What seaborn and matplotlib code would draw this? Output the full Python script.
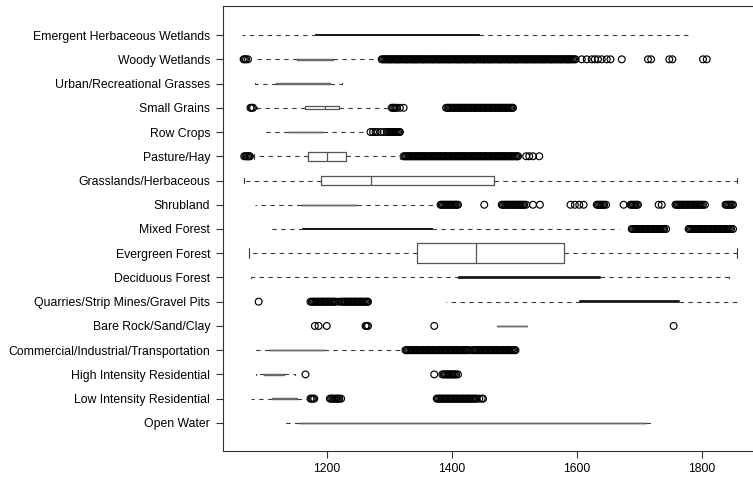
import matplotlib
matplotlib.use("Agg")
import matplotlib.pyplot as plt
import pandas as pd
import seaborn as sns

# ---------------- data ----------------
categories = [
    "Emergent Herbaceous Wetlands", "Woody Wetlands", "Urban/Recreational Grasses",
    "Small Grains", "Row Crops", "Pasture/Hay", "Grasslands/Herbaceous", "Shrubland",
    "Mixed Forest", "Evergreen Forest", "Deciduous Forest",
    "Quarries/Strip Mines/Gravel Pits", "Bare Rock/Sand/Clay",
    "Commercial/Industrial/Transportation", "High Intensity Residential",
    "Low Intensity Residential", "Open Water",
]
whisker_low = [1064, 1082, 1085, 1088, 1099, 1084, 1067, 1085, 1108, 1076, 1078, 1391, 1473, 1083, 1087, 1078, 1131]
quartile_1 = [1183, 1152, 1119, 1165, 1138, 1170, 1190, 1158, 1162, 1345, 1411, 1605, 1473, 1108, 1099, 1112, 1155]
median = [1300, 1181, 1160, 1197, 1165, 1200, 1270, 1200, 1260, 1438, 1520, 1690, 1495, 1150, 1115, 1130, 1430]
quartile_3 = [1443, 1210, 1205, 1219, 1194, 1230, 1468, 1248, 1368, 1579, 1637, 1763, 1520, 1195, 1131, 1152, 1711]
whisker_high = [1781, 1280, 1224, 1298, 1264, 1317, 1857, 1376, 1667, 1857, 1843, 1857, 1520, 1320, 1149, 1168, 1719]
box_size = [0.03, 0.02, 0.02, 0.12, 0.02, 0.37, 0.41, 0.02, 0.03, 0.82, 0.03, 0.03, 0.02, 0.02, 0.02, 0.02, 0.02]

fliers_woody = [1067, 1069, 1071, 1074,
                1288, 1290, 1292, 1294, 1296, 1298, 1300, 1302, 1303, 1305, 1307, 1309, 1311, 1313,
                1314, 1316, 1318, 1320, 1322, 1324, 1326, 1328, 1329, 1331, 1333, 1335, 1337, 1339,
                1340, 1342, 1344, 1346, 1348, 1350, 1352, 1354, 1355, 1357, 1359, 1361, 1363, 1365,
                1367, 1369, 1370, 1372, 1374, 1376, 1378, 1380, 1381, 1383, 1385, 1387, 1389, 1391,
                1393, 1395, 1396, 1398, 1400, 1402, 1404, 1406, 1408, 1410, 1411, 1413, 1415, 1417,
                1419, 1421, 1422, 1424, 1426, 1428, 1430, 1432, 1434, 1436, 1437, 1439, 1441, 1443,
                1445, 1447, 1449, 1451, 1452, 1454, 1456, 1458, 1460, 1462, 1463, 1465, 1467, 1469,
                1471, 1473, 1475, 1477, 1478, 1480, 1482, 1484, 1486, 1488, 1490, 1492, 1493, 1495,
                1497, 1499, 1501, 1503, 1504, 1506, 1508, 1510, 1512, 1514, 1516, 1518, 1519, 1521,
                1523, 1525, 1527, 1529, 1531, 1533, 1534, 1536, 1538, 1540, 1542, 1544, 1545, 1547,
                1549, 1551, 1553, 1555, 1557, 1559, 1560, 1562, 1564, 1566, 1568, 1570, 1572, 1574,
                1575, 1577, 1579, 1581, 1583, 1585, 1586, 1588, 1590, 1592, 1594, 1596, 1598,
                1608, 1616, 1624, 1629, 1634, 1640, 1648, 1654, 1672, 1714, 1719, 1748, 1753,
                1802, 1808]
fliers_small_grains = [1078, 1080, 1082, 1304, 1306, 1308, 1310, 1312, 1317, 1323,
                       1391, 1393, 1395, 1397, 1399, 1401, 1403, 1405, 1407, 1409, 1411, 1413, 1415,
                       1417, 1419, 1421, 1423, 1425, 1427, 1429, 1431, 1433, 1435, 1437, 1439, 1441,
                       1443, 1445, 1447, 1449, 1451, 1453, 1455, 1457, 1459, 1461, 1463, 1465, 1467,
                       1469, 1471, 1473, 1475, 1477, 1479, 1481, 1483, 1485, 1487, 1489, 1491, 1493,
                       1495, 1497, 1498]
fliers_row_crops = [1270, 1274, 1278, 1281, 1286, 1291, 1296, 1298, 1300, 1302, 1304, 1306, 1308,
                    1310, 1312, 1314, 1316, 1317]
fliers_pasture = [1068, 1070, 1072, 1074, 1076, 1077,
                  1323, 1325, 1327, 1329, 1331, 1333, 1335, 1337, 1339, 1341, 1343, 1345, 1347, 1349,
                  1351, 1353, 1355, 1357, 1359, 1361, 1363, 1365, 1367, 1369, 1371, 1373, 1375, 1377,
                  1379, 1381, 1383, 1385, 1387, 1389, 1391, 1393, 1395, 1397, 1399, 1401, 1403, 1405,
                  1407, 1409, 1411, 1413, 1415, 1417, 1419, 1421, 1423, 1425, 1427, 1429, 1431, 1433,
                  1435, 1437, 1439, 1441, 1443, 1445, 1447, 1449, 1451, 1453, 1455, 1457, 1459, 1461,
                  1463, 1465, 1467, 1469, 1471, 1473, 1475, 1477, 1479, 1481, 1483, 1485, 1487, 1489,
                  1491, 1493, 1495, 1497, 1499, 1501, 1503, 1505, 1506, 1519, 1524, 1530, 1540]
fliers_shrubland = [1382, 1384, 1386, 1388, 1390, 1392, 1394, 1396, 1398, 1400, 1402, 1404, 1406,
                    1408, 1410, 1452, 1480, 1482, 1484, 1486, 1488, 1490, 1492, 1494, 1496, 1498,
                    1500, 1502, 1504, 1506, 1508, 1510, 1512, 1514, 1516, 1519, 1530, 1541, 1590,
                    1597, 1604, 1611, 1632, 1634, 1636, 1638, 1640, 1642, 1644, 1647, 1675, 1686,
                    1688, 1690, 1692, 1694, 1696, 1698, 1731, 1736, 1758, 1760, 1762, 1764, 1766,
                    1768, 1770, 1772, 1774, 1776, 1778, 1780, 1782, 1784, 1786, 1788, 1790, 1792,
                    1794, 1796, 1798, 1800, 1802, 1805, 1838, 1840, 1842, 1844, 1846, 1848, 1850]
fliers_mixed = [1688, 1690, 1692, 1694, 1696, 1698, 1700, 1702, 1704, 1706, 1708, 1710, 1712, 1714,
                1716, 1718, 1720, 1722, 1724, 1726, 1728, 1730, 1732, 1734, 1736, 1738, 1740, 1743,
                1779, 1781, 1783, 1785, 1787, 1789, 1791, 1793, 1795, 1797, 1799, 1801, 1803, 1805,
                1807, 1809, 1811, 1813, 1815, 1817, 1819, 1821, 1823, 1825, 1827, 1829, 1831, 1833,
                1835, 1837, 1839, 1841, 1843, 1845, 1847, 1850]
fliers_quarries = [1091, 1174, 1176, 1178, 1180, 1182, 1184, 1186, 1188, 1190, 1192, 1194, 1196,
                   1198, 1200, 1202, 1204, 1206, 1208, 1210, 1212, 1214, 1219, 1223, 1225, 1227,
                   1229, 1231, 1233, 1235, 1237, 1239, 1241, 1243, 1245, 1247, 1249, 1251, 1253,
                   1255, 1257, 1259, 1261, 1263, 1265, 1266]
fliers_bare = [1181, 1187, 1200, 1262, 1264, 1266, 1372, 1755]
fliers_commercial = [1326, 1328, 1330, 1332, 1334, 1336, 1338, 1340, 1342, 1344, 1346, 1348, 1350,
                     1352, 1354, 1356, 1358, 1360, 1362, 1364, 1366, 1368, 1370, 1372, 1374, 1376,
                     1378, 1380, 1382, 1384, 1386, 1388, 1390, 1392, 1394, 1396, 1398, 1400, 1402,
                     1404, 1406, 1408, 1410, 1412, 1414, 1416, 1418, 1420, 1422, 1424, 1426, 1429,
                     1434, 1436, 1438, 1440, 1442, 1444, 1446, 1448, 1450, 1452, 1454, 1456, 1458,
                     1460, 1462, 1464, 1466, 1468, 1470, 1472, 1474, 1476, 1478, 1480, 1482, 1484,
                     1486, 1488, 1490, 1492, 1494, 1496, 1498, 1500, 1502]
fliers_high = [1166, 1372, 1385, 1387, 1389, 1391, 1393, 1395, 1397, 1399, 1401, 1403, 1405, 1407,
               1410]
fliers_low = [1174, 1176, 1178, 1180, 1205, 1207, 1209, 1211, 1213, 1215, 1217, 1219, 1220, 1223,
              1376, 1378, 1380, 1382, 1384, 1386, 1388, 1390, 1392, 1394, 1396, 1398, 1400, 1402,
              1404, 1406, 1408, 1410, 1412, 1414, 1416, 1418, 1420, 1422, 1424, 1426, 1428, 1430,
              1432, 1434, 1436, 1438, 1440, 1444, 1448, 1450]

fliers_by_category = {
    "Woody Wetlands": fliers_woody,
    "Small Grains": fliers_small_grains,
    "Row Crops": fliers_row_crops,
    "Pasture/Hay": fliers_pasture,
    "Shrubland": fliers_shrubland,
    "Mixed Forest": fliers_mixed,
    "Quarries/Strip Mines/Gravel Pits": fliers_quarries,
    "Bare Rock/Sand/Clay": fliers_bare,
    "Commercial/Industrial/Transportation": fliers_commercial,
    "High Intensity Residential": fliers_high,
    "Low Intensity Residential": fliers_low,
}
x_ticks = [1200, 1400, 1600, 1800]

# ---------------- style ----------------
sns.set_theme(style="ticks")
plt.rcParams["font.family"] = ["Liberation Sans", "DejaVu Sans"]

fig = plt.figure(figsize=(7.53, 4.79), dpi=100)
ax = fig.add_axes([223 / 753, 28 / 479, 540 / 753, 445 / 479])

n = len(categories)
positions = [n - i for i in range(n)]
pos_of = dict(zip(categories, positions))

stats = []
for i, c in enumerate(categories):
    stats.append(dict(label=c, whislo=whisker_low[i], q1=quartile_1[i], med=median[i],
                      q3=quartile_3[i], whishi=whisker_high[i], fliers=[]))

line_col = "#3a3a3a"
box_kw = dict(positions=positions, widths=box_size, showfliers=False, manage_ticks=False,
              boxprops=dict(color="#555555", lw=0.9),
              whiskerprops=dict(color=line_col, lw=0.8, linestyle=(0, (4, 4))),
              capprops=dict(color=line_col, lw=0.8),
              medianprops=dict(color="#555555", lw=0.9))
try:
    parts = ax.bxp(stats, orientation="horizontal", **box_kw)
except TypeError:
    parts = ax.bxp(stats, vert=False, **box_kw)

# very narrow boxes collapse into a solid line, as in the reference
for i, b in enumerate(parts["boxes"]):
    if box_size[i] <= 0.03:
        thick = box_size[i] >= 0.03
        b.set_color("#1a1a1a" if thick else "#6a6a6a")
        b.set_linewidth(1.3 if thick else 1.0)
        parts["medians"][i].set_visible(False)

rows = []
for c, vals in fliers_by_category.items():
    for v in vals:
        rows.append({"value": v, "pos": pos_of[c]})
df_fliers = pd.DataFrame(rows)
sns.scatterplot(data=df_fliers, x="value", y="pos", marker="o", s=24, facecolors="none",
                edgecolor="black", linewidth=0.85, legend=False, ax=ax)

ax.set_xlim(1034, 1034 + 540 / 0.625)
ax.set_ylim(-0.16, 18.2)
ax.set_xticks(x_ticks)
ax.set_xticklabels([str(t) for t in x_ticks], fontsize=8.8)
ax.set_yticks(positions)
ax.set_yticklabels(categories, fontsize=8.8)
ax.set_xlabel("")
ax.set_ylabel("")
for s in ax.spines.values():
    s.set_color("#333333")
    s.set_linewidth(0.8)
ax.tick_params(axis="both", direction="out", length=5, width=0.8, color="#333333",
               labelcolor="black")
ax.tick_params(axis="y", pad=4.3)
ax.tick_params(axis="x", pad=4)

fig.savefig("out.png", dpi=100)
